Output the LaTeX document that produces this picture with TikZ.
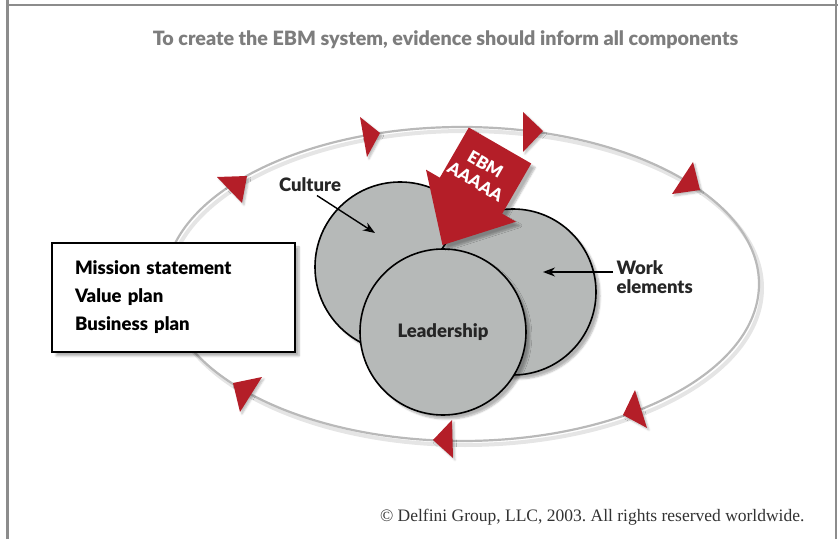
\documentclass[tikz,border=0pt]{standalone}
\usepackage{fontspec}
\setmainfont{Liberation Serif}
\newfontfamily\labelfont[BoldFont={Lato Black}]{Lato}
\usetikzlibrary{arrows.meta,shadows.blur}

\definecolor{ebmred}{RGB}{180,30,40}
\definecolor{unitgray}{RGB}{182,185,184}
\definecolor{framegray}{RGB}{140,140,140}
\definecolor{titlegray}{RGB}{125,125,125}
\definecolor{loopgray}{RGB}{185,185,185}

\tikzset{
  softshadow/.style={blur shadow={shadow xshift=4pt, shadow yshift=-4pt,
      shadow blur steps=6, shadow opacity=30}},
  unit/.style={circle, draw=black, line width=1.6pt, fill=unitgray,
    inner sep=0pt, softshadow},
  tag/.style={font=\labelfont\bfseries\fontsize{18.5}{19}\selectfont,
    text=black!85},
  planbox/.style={draw=black, line width=1.8pt, fill=white, softshadow,
    minimum width=243pt, minimum height=109pt, inner xsep=23pt,
    text width=197pt, align=left,
    font=\labelfont\bfseries\fontsize{18.5}{28}\selectfont},
  flowtip/.style={fill=ebmred, blur shadow={shadow xshift=2pt,
      shadow yshift=-2pt, shadow blur steps=4, shadow opacity=25}},
  pointer/.style={-{Stealth[length=12pt,width=9pt]}, line width=1.4pt}
}

\begin{document}
\frenchspacing
\begin{tikzpicture}[x=1pt,y=1pt]
  \useasboundingbox (0,0) rectangle (838,539);
  % Frame
  \draw[framegray, line width=2.2pt] (7.5,0) -- (7.5,539);
  \draw[framegray, line width=2.2pt] (7.5,534) -- (838,534);
  \draw[framegray, line width=2.2pt] (836,0) -- (836,539);
  \node[tag, text=titlegray, font=\labelfont\bfseries\fontsize{19.7}{20}\selectfont]
    (title) at (445.5,499)
    {To create the EBM system, evidence should inform all components};

  % Loop round the system
  \draw[black!10, line width=4pt] (465,251) ellipse [x radius=297, y radius=157];
  \draw[loopgray, line width=2.2pt] (462,255) ellipse [x radius=297, y radius=157];
  \foreach \ax/\ay/\bx/\by/\cx/\cy in {217/362/247/363/242/336,
                                       360/422/380/406/367/382,
                                       523/427/543/408/523/387,
                                       693/377/700/349/672/345,
                                       635/149/647/111/623/124,
                                       452/119/433/99/453/81,
                                       233/156/262/162/240/127} {
    \path[flowtip] (\ax,\ay) -- (\bx,\by) -- (\cx,\cy) -- cycle;
  }

  % Plans
  \node[planbox] (plans) at (173.5,241.5)
    {Mission statement\\Value plan\\Business plan};

  % Components
  \node[unit, minimum size=170pt] (culture) at (400,272) {};
  \node[unit, minimum size=166pt] (work) at (513,247) {};
  \node[unit, minimum size=166pt, tag] (lead) at (443,207) {Leadership};

  % EBM arrow
  \path[fill=ebmred, softshadow] (531.2,375.5) -- (502.2,325.3) -- (516,317.3)
    -- (442.5,293.9) -- (426,369.3) -- (439.8,361.3) -- (468.8,411.5) -- cycle;
  \node[tag, text=white, align=center, rotate=-30,
    font=\labelfont\bfseries\fontsize{17}{20}\selectfont] (ebm) at (480.5,366)
    {EBM\\AAAAA};

  % Labels
  \node[tag] (culturelbl) at (310,354) {Culture};
  \coordinate (culturept) at (375,306);
  \draw[pointer] ([xshift=7pt]culturelbl.south) -- (culturept);
  \node[tag, anchor=west, align=left] (worklbl) at (613,262) {Work\\elements};
  \coordinate (workpt) at (543,267);
  \draw[pointer] ([yshift=5pt]worklbl.west) -- (workpt);

  \node[anchor=east, text=black!80, font=\fontsize{17.5}{19}\selectfont]
    (rights) at (808,22)
    {© Delfini Group, LLC, 2003. All rights reserved worldwide.};
\end{tikzpicture}
\end{document}
